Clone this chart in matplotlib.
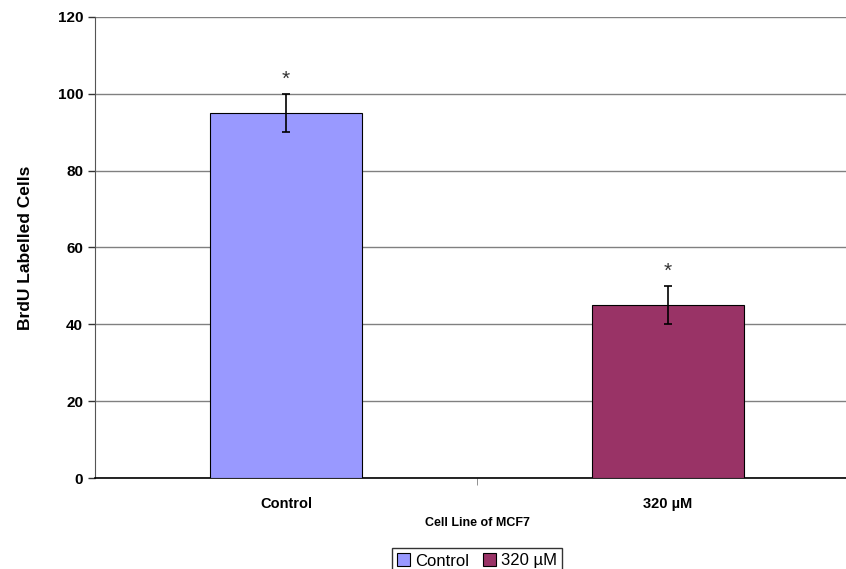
import matplotlib.pyplot as plt
import numpy as np

plt.rcParams['font.family'] = ['Liberation Sans', 'DejaVu Sans']

groups = ['Control', '320 µM']
values = [95, 45]
errors = [5, 5]
colors = ['#9999FF', '#993366']

fig = plt.figure(figsize=(8.46, 5.69), dpi=100)
ax = fig.add_axes([95/846, 91/569, 764/846, 461/569])

x = np.arange(len(groups))
bars = ax.bar(x, values, width=0.4, color=colors, edgecolor='black', linewidth=0.8,
              label=groups, zorder=3)
ax.errorbar(x, values, yerr=errors, fmt='none', ecolor='black', elinewidth=1.2,
            capsize=3, capthick=1.2, zorder=4)
for xi, v, e in zip(x, values, errors):
    ax.text(xi, v + e + 1.2, '*', ha='center', va='bottom', fontsize=15, color='#333333')

ax.set_xlim(-0.5, 1.5)
ax.set_ylim(0, 120)
ax.set_yticks(range(0, 121, 20))
ax.yaxis.grid(True, color='#808080', linewidth=1.0, zorder=0)
ax.set_axisbelow(True)

ax.set_xticks(x)
ax.set_xticklabels(groups, fontweight='bold', fontsize=10.5)
ax.tick_params(axis='x', length=0, pad=14)
ax.set_xticks([0.5], minor=True)
ax.tick_params(axis='x', which='minor', length=5, color='#808080')
ax.tick_params(axis='y', length=5, width=1, labelsize=11, color='#333333')
for lbl in ax.get_yticklabels():
    lbl.set_fontweight('bold')

for s in ['top', 'right']:
    ax.spines[s].set_visible(False)
ax.spines['left'].set_color('#555555')
ax.spines['bottom'].set_color('black')
ax.spines['bottom'].set_linewidth(1.2)

ax.set_ylabel('BrdU Labelled Cells', fontweight='bold', fontsize=12.5, labelpad=18)
ax.set_xlabel('Cell Line of MCF7', fontweight='bold', fontsize=9, labelpad=4)

fig.legend(handles=list(bars), labels=groups, loc='upper center',
           bbox_to_anchor=(477/846, 1 - 540/569), ncol=2, fontsize=12,
           frameon=True, fancybox=False, edgecolor='black', handlelength=0.8,
           handleheight=0.8, handletextpad=0.3, columnspacing=0.8, borderpad=0.3)

fig.savefig('out.png', dpi=100)
